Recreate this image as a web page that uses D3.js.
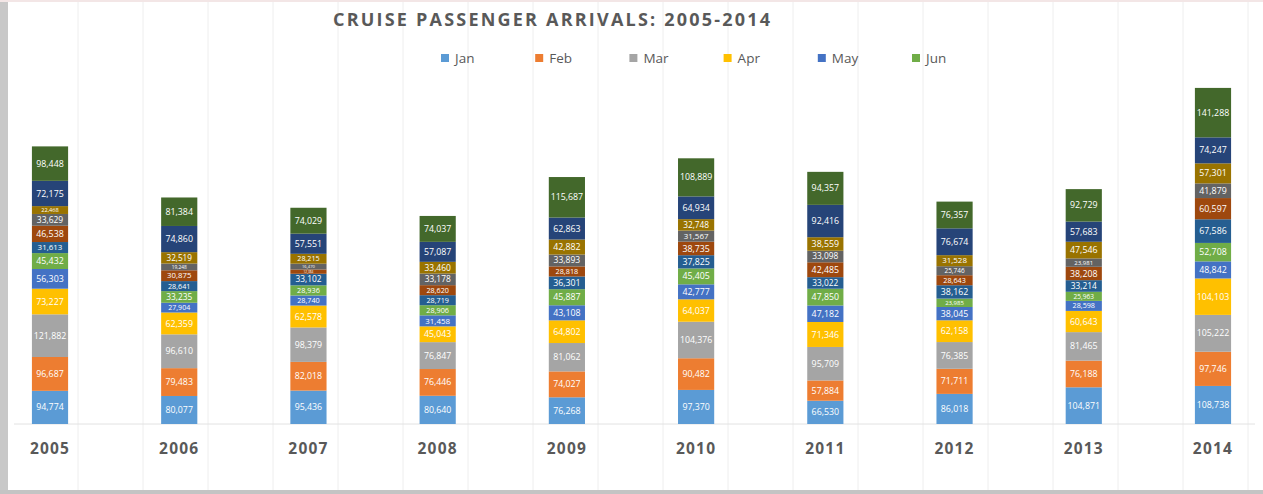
<!DOCTYPE html>
<html>
<head>
<meta charset="utf-8">
<script src="https://cdn.jsdelivr.net/npm/d3@7"></script>
<style>
  html, body { margin: 0; padding: 0; background: #ffffff; }
  svg { display: block; }
</style>
</head>
<body>
<svg id="chart" width="1263" height="494"></svg>
<script>
// ---- data ----
const years = ["2005","2006","2007","2008","2009","2010","2011","2012","2013","2014"];
const months = ["Jan","Feb","Mar","Apr","May","Jun","Jul","Aug","Sep","Oct","Nov","Dec"];
const legendMonths = ["Jan","Feb","Mar","Apr","May","Jun"];
const jan = [94774, 80077, 95436, 80640, 76268, 97370, 66530, 86018, 104871, 108738];
const feb = [96687, 79483, 82018, 76446, 74027, 90482, 57884, 71711, 76188, 97746];
const mar = [121882, 96610, 98379, 76847, 81062, 104376, 95709, 76385, 81465, 105222];
const apr = [73227, 62359, 62578, 45043, 64802, 64037, 71346, 62158, 60643, 104103];
const may = [56303, 27904, 28740, 31458, 43108, 42777, 47182, 38045, 28598, 48842];
const jun = [45432, 33235, 28936, 28906, 45887, 45405, 47850, 23985, 25963, 52708];
const jul = [31613, 28641, 33102, 28719, 36301, 37825, 33022, 38162, 33214, 67586];
const aug = [46538, 30875, 12384, 28620, 28818, 38735, 42485, 28643, 38208, 60597];
const sep = [33629, 19248, 16470, 33178, 33893, 31567, 33098, 25746, 23981, 41879];
const oct = [22468, 32519, 28215, 33460, 42882, 32748, 38559, 31528, 47546, 57301];
const nov = [72175, 74860, 57551, 57087, 62863, 64934, 92416, 76674, 57683, 74247];
const dec = [98448, 81384, 74029, 74037, 115687, 108889, 94357, 76357, 92729, 141288];
const series = [jan, feb, mar, apr, may, jun, jul, aug, sep, oct, nov, dec];
const title = "CRUISE PASSENGER ARRIVALS: 2005-2014";

const colors = ["#5B9BD5","#ED7D31","#A5A5A5","#FFC000","#4472C4","#70AD47",
                "#255E91","#9E480E","#636363","#997300","#264478","#43682B"];

// table for stack
const table = years.map((y, i) => {
  const row = { year: y };
  months.forEach((m, j) => row[m] = series[j][i]);
  return row;
});

const svg = d3.select("#chart");
const W = 1263, H = 494;

// faint sheet gridlines behind chart
const gridXs = d3.range(78, W, 65);
svg.append("g").selectAll("line").data(gridXs).join("line")
  .attr("x1", d => d).attr("x2", d => d).attr("y1", 0).attr("y2", 490)
  .attr("stroke", "#eeeeee").attr("stroke-width", 1);

// borders
svg.append("rect").attr("x", 0).attr("y", 0).attr("width", 8).attr("height", H).attr("fill", "#c8c8c8");
svg.append("rect").attr("x", 0).attr("y", 490).attr("width", W).attr("height", 4).attr("fill", "#c4c4c4");
svg.append("rect").attr("x", 0).attr("y", 0).attr("width", W).attr("height", 2).attr("fill", "#f3e6e6");

// scales
const x = d3.scaleBand().domain(years).range([-14.6, 1277.6]).paddingInner(0.72).paddingOuter(0.36);
const y = d3.scaleLinear().domain([0, 1000000]).range([424, 74]);
const color = d3.scaleOrdinal().domain(months).range(colors);

// axis baseline
svg.append("line").attr("x1", 14).attr("x2", 1255).attr("y1", 424).attr("y2", 424)
  .attr("stroke", "#e2e2e2").attr("stroke-width", 1);

const stack = d3.stack().keys(months)(table);

const layers = svg.append("g").selectAll("g").data(stack).join("g")
  .attr("fill", d => color(d.key));
layers.selectAll("rect").data(d => d).join("rect")
  .attr("x", d => x(d.data.year))
  .attr("width", x.bandwidth())
  .attr("y", d => y(d[1]))
  .attr("height", d => y(d[0]) - y(d[1]));

const fmt = d3.format(",");
const segH = d => y(d[0]) - y(d[1]);
const labels = svg.append("g").attr("font-family", "'Open Sans', sans-serif")
  .attr("fill", "#ffffff").attr("text-anchor", "middle");
stack.forEach(layer => {
  labels.selectAll(null).data(layer).join("text")
    .attr("x", d => x(d.data.year) + x.bandwidth() / 2)
    .attr("y", d => (y(d[0]) + y(d[1])) / 2)
    .attr("dy", "0.35em")
    .attr("font-size", d => Math.max(3, Math.min(8.8, segH(d) * 0.72)))
    .text(d => fmt(d[1] - d[0]));
});

// year axis labels
const xAxis = d3.axisBottom(x).tickSize(0).tickPadding(0);
const ax = svg.append("g").attr("transform", "translate(0,424)").call(xAxis);
ax.select(".domain").remove();
ax.selectAll("text")
  .attr("y", 25).attr("dy", "0.35em")
  .attr("font-family", "'Open Sans', sans-serif").attr("font-weight", "bold")
  .attr("font-size", 15.5).attr("fill", "#595959").attr("letter-spacing", "1.2px");

// title
svg.append("text").attr("x", 333).attr("y", 20).attr("dy", "0.35em")
  .attr("font-family", "'Open Sans', sans-serif").attr("font-weight", "bold")
  .attr("font-size", 18).attr("fill", "#595959")
  .attr("textLength", 437).attr("lengthAdjust", "spacing")
  .text(title);

// legend
const legendX = d3.scalePoint().domain(legendMonths).range([441, 912]);
const lg = svg.append("g").selectAll("g").data(legendMonths).join("g")
  .attr("transform", d => `translate(${legendX(d)},58)`);
lg.append("rect").attr("x", 0).attr("y", -4).attr("width", 8).attr("height", 8)
  .attr("fill", d => color(d));
lg.append("text").attr("x", 14).attr("dy", "0.35em")
  .attr("font-family", "'Open Sans', sans-serif").attr("font-size", 13.5)
  .attr("fill", "#595959").text(d => d);
</script>
</body>
</html>
